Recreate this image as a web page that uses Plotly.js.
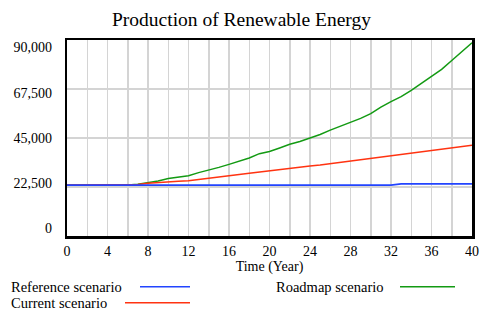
<!DOCTYPE html>
<html>
<head>
<meta charset="utf-8">
<script src="https://cdn.plot.ly/plotly-3.0.1.min.js"></script>
<style>html,body{margin:0;padding:0;background:#fff;}#chart{width:483px;height:318px;}</style>
</head>
<body>
<div id="chart"></div>
<script>
var years = [0,1,2,3,4,5,6,7,8,9,10,11,12,13,14,15,16,17,18,19,20,21,22,23,24,25,26,27,28,29,30,31,32,33,34,35,36,37,38,39,40];
var referenceScenario = [23400,23400,23400,23400,23400,23400,23400,23400,23400,23400,23400,23400,23400,23400,23400,23400,23400,23400,23400,23400,23400,23400,23400,23400,23400,23400,23400,23400,23400,23400,23400,23400,23400,23900,23900,23900,23900,23900,23900,23900,23900];
var currentScenario = [23400,23400,23400,23400,23400,23400,23400,23600,24200,24600,24900,25100,25400,25900,26500,27100,27700,28200,28800,29400,29900,30400,30900,31500,32100,32600,33200,33700,34300,34900,35600,36100,36700,37300,37900,38500,39100,39700,40400,41000,41700];
var roadmapScenario = [23400,23400,23400,23400,23400,23400,23400,23800,24500,25300,26400,27000,27700,29100,30200,31500,32900,34300,35800,37800,38800,40400,42100,43400,44900,46600,48600,50300,52100,54000,56200,59200,61700,64000,66900,70000,73400,76500,80600,84700,88700];
var seriesNames = ["Reference scenario", "Current scenario", "Roadmap scenario"];
var yTickVals = [0, 22500, 45000, 67500, 90000];
var yTickText = ["0", "22,500", "45,000", "67,500", "90,000"];

var colBlue = "#2244ff", colRed = "#ff3311", colGreen = "#139a13";
var font = "'Liberation Serif', 'Times New Roman', serif";

var traces = [
  {x: years, y: roadmapScenario, name: seriesNames[2], mode: "lines", line: {color: colGreen, width: 1.5}},
  {x: years, y: currentScenario, name: seriesNames[1], mode: "lines", line: {color: colRed, width: 1.5}},
  {x: years, y: referenceScenario, name: seriesNames[0], mode: "lines", line: {color: colBlue, width: 1.8}},
  {x: [0], y: [0], yaxis: "y2", mode: "markers", marker: {opacity: 0}, hoverinfo: "skip", showlegend: false}
];

// plot area in pixels: x 67..472, y 39.5..236
function px(x) { return (x - 67) / 405; }
function py(y) { return (236 - y) / 196.5; }

var legendItems = [
  {text: seriesNames[0], tx: 10, ty: 287, x0: 140, x1: 190, color: colBlue},
  {text: seriesNames[2], tx: 275, ty: 287, x0: 400, x1: 455, color: colGreen},
  {text: seriesNames[1], tx: 10, ty: 303, x0: 125, x1: 190, color: colRed}
];
var annotations = [], shapes = [];
legendItems.forEach(function (it) {
  annotations.push({xref: "paper", yref: "paper", x: px(it.tx), y: py(it.ty), xanchor: "left", yanchor: "middle",
    text: it.text, showarrow: false, borderpad: 0, font: {family: font, size: 14.5, color: "#000"}});
  shapes.push({type: "line", xref: "paper", yref: "paper", x0: px(it.x0), x1: px(it.x1), y0: py(it.ty), y1: py(it.ty),
    line: {color: it.color, width: 1.5}});
});

var layout = {
  width: 483, height: 318,
  margin: {l: 67, r: 11, t: 39.5, b: 82},
  paper_bgcolor: "#fff", plot_bgcolor: "#fff",
  showlegend: false,
  font: {family: font, size: 14, color: "#000"},
  title: {text: "Production of Renewable Energy", font: {family: font, size: 19.5, color: "#000"}, x: 0.5, xanchor: "center", y: 0.94, yanchor: "middle"},
  xaxis: {range: [0, 40], dtick: 4, tick0: 0, showgrid: true, gridcolor: "#d4d4d4", gridwidth: 1.5,
    minor: {dtick: 2, tick0: 0, showgrid: true, gridcolor: "#d4d4d4", gridwidth: 1.5},
    zeroline: false, showline: true, mirror: true, linecolor: "#000", linewidth: 2.5,
    ticks: "", ticklabelstandoff: 1, tickfont: {family: font, size: 14, color: "#000"},
    title: {text: "Time (Year)", font: {family: font, size: 14, color: "#000"}, standoff: 1}},
  yaxis: {range: [0, 90000], tickvals: yTickVals, showticklabels: false, showgrid: true, gridcolor: "#d4d4d4", gridwidth: 1.5,
    zeroline: false, showline: true, mirror: true, linecolor: "#000", linewidth: 2.5, ticks: ""},
  yaxis2: {overlaying: "y", side: "left", range: [-3980, 93730], tickvals: yTickVals, ticktext: yTickText,
    showgrid: false, zeroline: false, showline: false, ticks: "", ticklabelstandoff: 14, tickfont: {family: font, size: 14, color: "#000"}},
  annotations: annotations,
  shapes: shapes
};
Plotly.newPlot("chart", traces, layout, {displayModeBar: false, staticPlot: true});
</script>
</body>
</html>
